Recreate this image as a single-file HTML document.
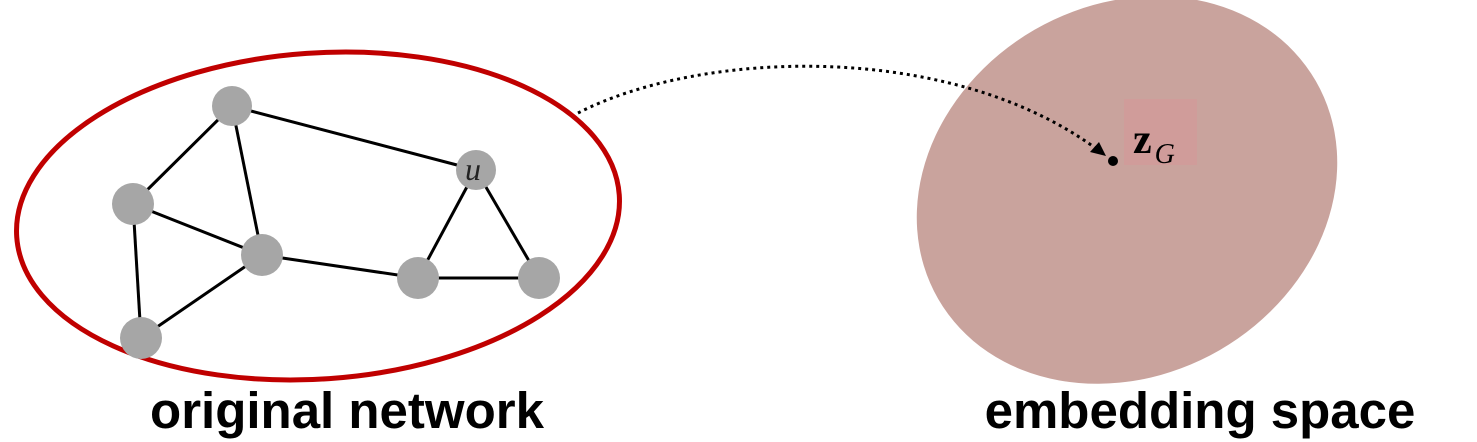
<!DOCTYPE html>
<html><head><meta charset="utf-8"><style>
html,body{margin:0;padding:0;background:#fff;overflow:hidden;width:1477px;height:442px;}
svg{display:block;}
</style></head><body>
<svg width="1477" height="442" viewBox="0 0 1477 442" xmlns="http://www.w3.org/2000/svg">
  <ellipse cx="1127" cy="190" rx="218" ry="185" transform="rotate(-30 1127 190)" fill="#c9a39d"/>
  <rect x="1124" y="99" width="73" height="66" fill="#d09c9a"/>
  <ellipse cx="318" cy="216" rx="302" ry="163" transform="rotate(-4 318 216)" fill="none" stroke="#c00000" stroke-width="5"/>
  <g stroke="#000" stroke-width="3">
    <line x1="232" y1="106" x2="133" y2="204"/>
    <line x1="232" y1="106" x2="262" y2="255"/>
    <line x1="232" y1="106" x2="476" y2="170"/>
    <line x1="133" y1="204" x2="262" y2="255"/>
    <line x1="133" y1="204" x2="141" y2="338"/>
    <line x1="262" y1="255" x2="141" y2="338"/>
    <line x1="262" y1="255" x2="418" y2="278"/>
    <line x1="476" y1="170" x2="418" y2="278"/>
    <line x1="476" y1="170" x2="539" y2="278"/>
    <line x1="418" y1="278" x2="539" y2="278"/>
  </g>
  <g fill="#a6a6a6">
    <circle cx="232" cy="106" r="20"/>
    <circle cx="133" cy="204" r="21"/>
    <circle cx="262" cy="255" r="21"/>
    <circle cx="141" cy="338" r="21"/>
    <circle cx="476" cy="170" r="20"/>
    <circle cx="418" cy="278" r="21"/>
    <circle cx="539" cy="278" r="21"/>
  </g>
  <text x="465" y="180" font-family="Liberation Serif, serif" font-style="italic" font-size="32" fill="#222">u</text>
  <path d="M578 113 C 700 50, 950 40, 1098 150" fill="none" stroke="#000" stroke-width="3" stroke-dasharray="3 4"/>
  <polygon points="1106,156 1090,152 1099,142" fill="#000"/>
  <circle cx="1113" cy="161" r="5" fill="#000"/>
  <text x="1133" y="153" font-family="Liberation Serif, serif" font-weight="bold" font-size="42" fill="#000">z<tspan font-size="28" font-weight="normal" font-style="italic" dx="3" dy="10">G</tspan></text>
  <text x="347" y="428" text-anchor="middle" font-family="Liberation Sans, sans-serif" font-weight="bold" font-size="51" fill="#000">original network</text>
  <text x="1200" y="428" text-anchor="middle" font-family="Liberation Sans, sans-serif" font-weight="bold" font-size="51" fill="#000">embedding space</text>
</svg>
</body></html>
